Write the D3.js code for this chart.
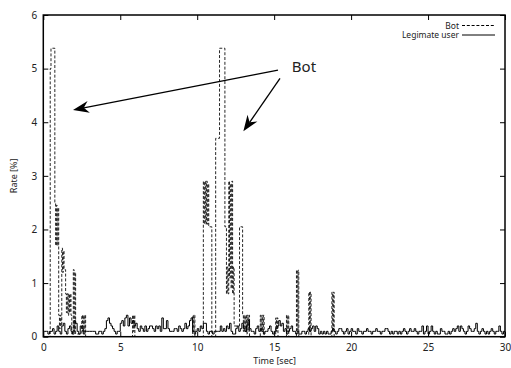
<!DOCTYPE html>
<html>
<head>
<meta charset="utf-8">
<script src="https://cdn.jsdelivr.net/npm/d3@7"></script>
<style>
  body { margin: 0; background: #fff; }
  svg text { font-family: "Noto Sans", "Open Sans", sans-serif; fill: #222; }
</style>
</head>
<body>
<div id="chart"></div>
<script>
// legitimate user rate, one value per 0.1 s bin (0 .. 30 s)
const legitRates = [
  0.1,0.1,0.1,0.05,0.1,0.1,0.15,0.05,0.1,0.2,
  0.1,0.05,0.2,0.25,0.1,0.05,0.15,0.2,0.1,0.05,
  0.3,0.25,0.1,0.05,0.2,0.15,0.05,0.1,0.1,0.1,
  0.1,0.1,0.1,0.1,0.05,0.05,0.1,0.1,0.05,0.1,
  0.15,0.3,0.35,0.25,0.2,0.15,0.1,0.05,0.1,0.1,
  0.25,0.3,0.2,0.35,0.4,0.2,0.35,0.25,0.3,0.2,
  0.25,0.15,0.1,0.2,0.15,0.1,0.2,0.1,0.15,0.2,
  0.2,0.15,0.1,0.2,0.15,0.2,0.1,0.35,0.15,0.15,
  0.3,0.15,0.1,0.1,0.1,0.15,0.15,0.1,0.2,0.15,
  0.1,0.15,0.25,0.15,0.2,0.3,0.35,0.1,0.05,0.1,
  0.15,0.1,0.2,0.15,0.25,0.25,0.1,0.05,0.1,0.1,
  0.05,0.1,0.1,0.1,0.1,0.2,0.1,0.15,0.1,0.2,
  0.15,0.25,0.1,0.05,0.05,0.15,0.2,0.1,0.15,0.25,
  0.15,0.1,0.2,0.3,0.15,0.1,0.1,0.05,0.15,0.2,
  0.1,0.15,0.1,0.05,0.1,0.1,0.15,0.2,0.1,0.05,
  0.1,0.15,0.2,0.3,0.2,0.25,0.1,0.15,0.05,0.1,
  0.15,0.2,0.1,0.1,0.05,0.1,0.05,0.05,0.1,0.1,
  0.05,0.1,0.15,0.1,0.15,0.2,0.1,0.2,0.15,0.05,
  0.1,0.05,0.1,0.05,0.1,0.05,0.05,0.1,0.15,0.1,
  0.05,0.1,0.15,0.15,0.1,0.05,0.1,0.15,0.05,0.1,
  0.15,0.1,0.1,0.05,0.15,0.1,0.1,0.05,0.1,0.1,
  0.15,0.1,0.1,0.05,0.1,0.1,0.15,0.1,0.1,0.05,
  0.1,0.1,0.15,0.15,0.1,0.05,0.1,0.05,0.1,0.1,
  0.05,0.1,0.05,0.1,0.15,0.1,0.05,0.1,0.15,0.1,
  0.1,0.15,0.1,0.05,0.1,0.1,0.2,0.05,0.1,0.2,
  0.05,0.1,0.2,0.1,0.05,0.1,0.05,0.05,0.15,0.1,
  0.1,0.05,0.05,0.1,0.05,0.1,0.15,0.1,0.15,0.2,
  0.1,0.2,0.15,0.1,0.05,0.1,0.2,0.15,0.1,0.1,
  0.15,0.25,0.1,0.05,0.1,0.15,0.1,0.05,0.1,0.05,
  0.1,0.15,0.1,0.05,0.1,0.1,0.2,0.1,0.05,0.1
];
const legitBin = 0.1;

// bot rate as steps: each value holds from its time until the next time
const botTimes = [
  0, 0.45, 0.5, 0.75, 0.8, 0.85, 0.9, 0.95,
  1.0, 1.05, 1.1, 1.15, 1.2, 1.25, 1.3, 1.35,
  1.45, 1.5, 1.55, 1.6, 1.65, 1.7, 1.75, 1.8,
  1.85, 1.95, 2.0, 2.05, 2.1,
  2.5, 2.55, 2.6, 2.65, 2.7, 2.75,
  5.8, 5.85, 5.9, 5.95,
  9.7, 9.75, 9.8, 9.85,
  10.4, 10.45, 10.5, 10.55, 10.6, 10.65, 10.7, 10.75, 10.95,
  11.2, 11.45, 11.8,
  11.9, 11.95, 12.0, 12.05, 12.1, 12.15, 12.2, 12.25, 12.3, 12.35, 12.4,
  12.75, 12.95, 13.0, 13.05, 13.1, 13.15, 13.2, 13.25, 13.3, 13.35, 13.4,
  14.1, 14.15, 14.2, 14.25, 14.3, 14.35,
  15.1, 15.15, 15.2, 15.25,
  15.8, 15.85, 15.9, 15.95,
  16.45, 16.5, 16.55, 16.6,
  17.25, 17.3, 17.35, 17.4,
  18.75, 18.8, 18.85, 18.9,
  30
];
const botRates = [
  0, 5.0, 5.38, 2.5, 1.7, 2.45, 1.7, 2.4,
  0.4, 0.15, 0.4, 0.2, 1.65, 1.2, 1.6, 1.25,
  0.8, 0.45, 0.8, 0.4, 0.8, 0.45, 0.8, 0.4,
  0.05, 1.25, 0.1, 1.2, 0.05,
  0.4, 0.1, 0.4, 0.1, 0.4, 0,
  0.4, 0.1, 0.4, 0,
  0.4, 0.1, 0.4, 0,
  2.9, 2.1, 2.9, 2.1, 2.9, 2.1, 2.85, 2.05, 0,
  3.7, 5.38, 2.05,
  0.8, 1.3, 0.8, 2.9, 1.1, 2.85, 0.9, 2.9, 0.8, 1.3, 0.2,
  2.05, 0.4, 0.1, 0.4, 0.1, 0.4, 0.05, 0.4, 0.1, 0.4, 0,
  0.4, 0.1, 0.4, 0.1, 0.4, 0,
  0.35, 0.1, 0.35, 0,
  0.4, 0.1, 0.4, 0,
  1.24, 0.1, 1.24, 0,
  0.83, 0.1, 0.83, 0,
  0.83, 0.1, 0.83, 0,
  0
];

const xTicks = [0, 5, 10, 15, 20, 25, 30];
const yTicks = [0, 1, 2, 3, 4, 5, 6];
const seriesNames = ['Bot', 'Legimate user'];

// "Bot" annotation: label position and arrow (start -> tip) in data units
const noteLabel = { t: 16.15, r: 4.93, text: 'Bot' };
const noteArrows = [
  { t0: 15.25, r0: 4.97, t1: 1.93, r1: 4.23 },
  { t0: 15.38, r0: 4.82, t1: 13.0, r1: 3.83 }
];

const width = 511, height = 368;
const margin = { top: 15, right: 6, bottom: 31.3, left: 43.3 };

const svg = d3.select('#chart').append('svg')
  .attr('width', width)
  .attr('height', height);

const x = d3.scaleLinear().domain([0, 30]).range([margin.left, width - margin.right]);
const y = d3.scaleLinear().domain([0, 6]).range([height - margin.bottom, margin.top]);

const legitData = legitRates.map((v, i) => [i * legitBin, v]);
legitData.push([30, legitRates[legitRates.length - 1]]);
const botData = botTimes.map((t, i) => [t, botRates[i]]);

const line = d3.line()
  .x(d => x(d[0]))
  .y(d => y(d[1]))
  .curve(d3.curveStepAfter);

svg.append('defs').append('clipPath').attr('id', 'plotClip')
  .append('rect')
  .attr('x', margin.left).attr('y', margin.top)
  .attr('width', x(30) - x(0)).attr('height', y(0) - y(6));

const plot = svg.append('g').attr('clip-path', 'url(#plotClip)');

plot.append('path')
  .attr('d', line(legitData))
  .attr('fill', 'none')
  .attr('stroke', '#000')
  .attr('stroke-width', 1);

plot.append('path')
  .attr('d', line(botData))
  .attr('fill', 'none')
  .attr('stroke', '#000')
  .attr('stroke-width', 0.85)
  .attr('stroke-dasharray', '3,1.8');

// axes with inward ticks, mirrored on all sides
const tickLen = 5;
const fmt = d3.format('d');
svg.append('g').attr('transform', `translate(0,${y(0)})`)
  .call(d3.axisBottom(x).tickValues(xTicks).tickFormat(fmt).tickSizeInner(-tickLen).tickSizeOuter(0).tickPadding(7))
  .call(g => g.select('.domain').remove());
svg.append('g').attr('transform', `translate(0,${y(6)})`)
  .call(d3.axisTop(x).tickValues(xTicks).tickSizeInner(-tickLen).tickSizeOuter(0).tickFormat(''))
  .call(g => g.select('.domain').remove());
svg.append('g').attr('transform', `translate(${x(0)},0)`)
  .call(d3.axisLeft(y).tickValues(yTicks).tickFormat(fmt).tickSizeInner(-tickLen).tickSizeOuter(0).tickPadding(6))
  .call(g => g.select('.domain').remove());
svg.append('g').attr('transform', `translate(${x(30)},0)`)
  .call(d3.axisRight(y).tickValues(yTicks).tickSizeInner(-tickLen).tickSizeOuter(0).tickFormat(''))
  .call(g => g.select('.domain').remove());

svg.selectAll('.tick line').attr('stroke', '#000').attr('stroke-width', 1);
svg.selectAll('.tick text')
  .attr('font-size', 10)
  .attr('font-family', '"Noto Sans", sans-serif')
  .attr('fill', '#222');

svg.append('rect')
  .attr('x', x(0)).attr('y', y(6))
  .attr('width', x(30) - x(0)).attr('height', y(0) - y(6))
  .attr('fill', 'none')
  .attr('stroke', '#000')
  .attr('stroke-width', 1.5);

// axis titles
svg.append('text')
  .attr('x', (x(0) + x(30)) / 2 + 0.5)
  .attr('y', 364)
  .attr('text-anchor', 'middle')
  .attr('font-size', 9)
  .text('Time [sec]');

svg.append('text')
  .attr('transform', `translate(17,${(y(0) + y(6)) / 2}) rotate(-90)`)
  .attr('text-anchor', 'middle')
  .attr('font-size', 9)
  .text('Rate [%]');

// legend
const legend = svg.append('g');
seriesNames.forEach((name, i) => {
  const ly = 25.5 + i * 9.5;
  legend.append('text')
    .attr('x', 459)
    .attr('y', ly + 3)
    .attr('text-anchor', 'end')
    .attr('font-size', 8.5)
    .text(name);
  legend.append('line')
    .attr('x1', 462).attr('x2', 495)
    .attr('y1', ly).attr('y2', ly)
    .attr('stroke', '#000')
    .attr('stroke-width', 1)
    .attr('stroke-dasharray', i === 0 ? '3,1.8' : null);
});

// annotation
svg.append('text')
  .attr('x', x(noteLabel.t))
  .attr('y', y(noteLabel.r))
  .attr('font-family', '"DejaVu Sans Mono", monospace')
  .attr('font-size', 15)
  .attr('fill', '#111')
  .text(noteLabel.text);

noteArrows.forEach(a => {
  const x0 = x(a.t0), y0 = y(a.r0), x1 = x(a.t1), y1 = y(a.r1);
  const ang = Math.atan2(y1 - y0, x1 - x0);
  const headLen = 16, headW = 6, notch = 11;
  const ux = Math.cos(ang), uy = Math.sin(ang);
  const px = -uy, py = ux;
  const bx = x1 - ux * headLen, by = y1 - uy * headLen;
  const nx = x1 - ux * notch, ny = y1 - uy * notch;
  svg.append('line')
    .attr('x1', x0).attr('y1', y0)
    .attr('x2', nx).attr('y2', ny)
    .attr('stroke', '#000')
    .attr('stroke-width', 1.3);
  svg.append('path')
    .attr('d', `M${x1},${y1} L${bx + px * headW},${by + py * headW} L${nx},${ny} L${bx - px * headW},${by - py * headW} Z`)
    .attr('fill', '#000');
});
</script>
</body>
</html>
